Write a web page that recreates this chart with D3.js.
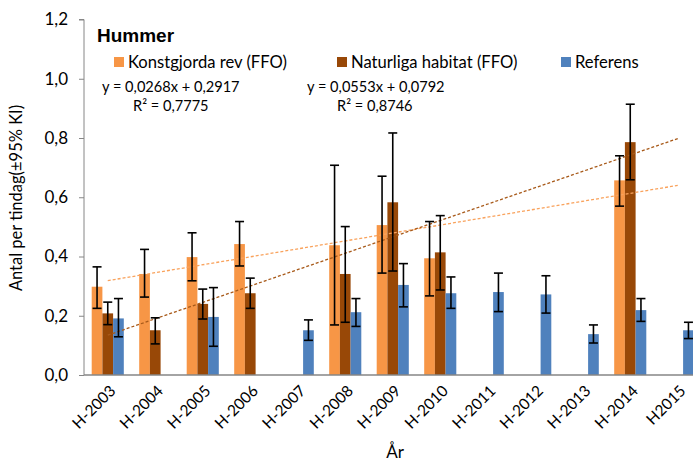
<!DOCTYPE html>
<html>
<head>
<meta charset="utf-8">
<script src="https://cdn.jsdelivr.net/npm/d3@7"></script>
<style>
  html, body { margin: 0; padding: 0; background: #fff; overflow: hidden; }
  svg { display: block; }
  text { font-family: Lato, "Open Sans", sans-serif; fill: #000; }
</style>
</head>
<body>
<svg id="chart" width="693" height="461"></svg>
<script>
// Catch per fishing day for lobster, with 95% confidence intervals
const categories = ["H-2003","H-2004","H-2005","H-2006","H-2007","H-2008","H-2009",
                    "H-2010","H-2011","H-2012","H-2013","H-2014","H2015"];

const konstgjorda   = [0.298, 0.341, 0.398, 0.442, null, 0.438, 0.506, 0.394, null, null, null, 0.657, null];
const konstgjordaLo = [0.225, 0.263, 0.318, 0.368, null, 0.169, 0.344, 0.267, null, null, null, 0.570, null];
const konstgjordaHi = [0.365, 0.424, 0.480, 0.518, null, 0.708, 0.671, 0.518, null, null, null, 0.740, null];

const naturliga     = [0.208, 0.151, 0.240, 0.276, null, 0.341, 0.583, 0.414, null, null, null, 0.786, null];
const naturligaLo   = [0.170, 0.105, 0.189, 0.225, null, 0.178, 0.351, 0.287, null, null, null, 0.659, null];
const naturligaHi   = [0.246, 0.193, 0.290, 0.327, null, 0.501, 0.817, 0.538, null, null, null, 0.914, null];

const referens      = [0.191, null, 0.196, null, 0.151, 0.212, 0.304, 0.276, 0.280, 0.272, 0.138, 0.219, 0.151];
const referensLo    = [0.129, null, 0.097, null, 0.117, 0.164, 0.230, 0.225, 0.214, 0.209, 0.108, 0.181, 0.123];
const referensHi    = [0.258, null, 0.295, null, 0.186, 0.258, 0.376, 0.331, 0.344, 0.335, 0.169, 0.258, 0.178];

// Linear trend lines (x = year index 1..13)
const trendKonst = { slope: 0.0268, intercept: 0.2917, label: "y = 0,0268x + 0,2917", r2: "R² = 0,7775" };
const trendNatur = { slope: 0.0553, intercept: 0.0792, label: "y = 0,0553x + 0,0792", r2: "R² = 0,8746" };

const yTicks = [0, 0.2, 0.4, 0.6, 0.8, 1.0, 1.2];

const seriesNames  = ["Konstgjorda rev (FFO)", "Naturliga habitat (FFO)", "Referens"];
const seriesColors = ["#F79646", "#984807", "#4F81BD"];

const series = [
  { name: seriesNames[0], color: seriesColors[0], v: konstgjorda, lo: konstgjordaLo, hi: konstgjordaHi },
  { name: seriesNames[1], color: seriesColors[1], v: naturliga,   lo: naturligaLo,   hi: naturligaHi },
  { name: seriesNames[2], color: seriesColors[2], v: referens,    lo: referensLo,    hi: referensHi }
];

const svg = d3.select("#chart");
const plot = { left: 84, top: 19.5, bottom: 375 };
const step = 47.5;

const x = d3.scaleBand().domain(categories)
  .range([plot.left, plot.left + step * categories.length]).paddingInner(0).paddingOuter(0);
const barW = 10.7;
const xs = d3.scaleBand().domain(seriesNames).range([-1.5 * barW, 1.5 * barW]);
const y = d3.scaleLinear().domain([0, 1.2]).range([plot.bottom, plot.top]);

const locale = d3.formatLocale({ decimal: ",", thousands: " ", grouping: [3], currency: ["", " kr"] });
const fmt = locale.format(".1f");

// Bars
const groups = svg.append("g");
series.forEach(s => {
  const g = groups.append("g");
  const rows = categories.map((c, i) => ({ c, v: s.v[i], lo: s.lo[i], hi: s.hi[i] })).filter(d => d.v != null);
  g.selectAll("rect").data(rows).join("rect")
    .attr("x", d => x(d.c) + x.bandwidth() / 2 + xs(s.name))
    .attr("width", xs.bandwidth())
    .attr("y", d => y(d.v))
    .attr("height", d => y(0) - y(d.v))
    .attr("fill", s.color);
});

// Trend lines
const xi = d3.scaleLinear().domain([1, categories.length])
  .range([x(categories[0]) + x.bandwidth() / 2, x(categories[categories.length - 1]) + x.bandwidth() / 2]);
[[trendKonst, "#F9A25C"], [trendNatur, "#A85A1A"]].forEach(([t, col]) => {
  svg.append("line")
    .attr("x1", xi(1)).attr("y1", y(t.slope * 1 + t.intercept))
    .attr("x2", xi(categories.length)).attr("y2", y(t.slope * categories.length + t.intercept))
    .attr("stroke", col).attr("stroke-width", 1.3).attr("stroke-dasharray", "3,2");
});

// Error bars
series.forEach(s => {
  const g = svg.append("g").attr("stroke", "#000").attr("stroke-width", 1.6);
  categories.forEach((c, i) => {
    if (s.v[i] == null) return;
    const cx = x(c) + x.bandwidth() / 2 + xs(s.name) + xs.bandwidth() / 2;
    g.append("line").attr("x1", cx).attr("x2", cx).attr("y1", y(s.lo[i])).attr("y2", y(s.hi[i]));
    [s.lo[i], s.hi[i]].forEach(v => {
      g.append("line").attr("x1", cx - 4.5).attr("x2", cx + 4.5).attr("y1", y(v)).attr("y2", y(v));
    });
  });
});

// Axes
const axisColor = "#868686";
const yAxis = svg.append("g").attr("transform", `translate(${plot.left},0)`)
  .call(d3.axisLeft(y).tickValues(yTicks).tickFormat(fmt).tickSize(5).tickPadding(11));
yAxis.select(".domain").attr("stroke", axisColor).attr("d", `M-5,${y(1.2)}H0V${y(0)}`);
yAxis.selectAll(".tick line").attr("stroke", axisColor);
yAxis.selectAll(".tick text").style("font-size", "17px").attr("fill", "#000");

const xAxis = svg.append("g").attr("transform", `translate(0,${plot.bottom})`);
xAxis.append("line").attr("x1", plot.left).attr("x2", plot.left + step * categories.length)
  .attr("stroke", axisColor).attr("stroke-width", 1.3);
xAxis.selectAll("text").data(categories).join("text")
  .attr("transform", d => `translate(${x(d) + x.bandwidth() / 2 + 5},${13}) rotate(-45)`)
  .attr("text-anchor", "end").attr("dy", "0.35em")
  .style("font-size", "15.5px").text(d => d);

// Axis titles
svg.append("text").attr("x", 395).attr("y", 458).attr("text-anchor", "middle")
  .style("font-size", "17px").text("År");
svg.append("text").attr("transform", "translate(22,198) rotate(-90)").attr("text-anchor", "middle")
  .style("font-size", "16.5px").text("Antal per tindag(±95% KI)");

// Title
svg.append("text").attr("x", 97).attr("y", 41.5)
  .style("font-family", "'Liberation Sans', Arial, sans-serif")
  .style("font-weight", "bold").style("font-size", "19px").text("Hummer");

// Legend
const legendPos = [114, 337, 561];
series.forEach((s, i) => {
  svg.append("rect").attr("x", legendPos[i]).attr("y", 57).attr("width", 10).attr("height", 10).attr("fill", s.color);
  svg.append("text").attr("x", legendPos[i] + 14).attr("y", 68).style("font-size", "16.6px").text(s.name);
});

// Trend equations
[[trendKonst, 102, 133], [trendNatur, 307, 337]].forEach(([t, x1, x2]) => {
  svg.append("text").attr("x", x1).attr("y", 92).style("font-size", "14.6px").text(t.label);
  svg.append("text").attr("x", x2).attr("y", 111).style("font-size", "14.6px").text(t.r2);
});
</script>
</body>
</html>
